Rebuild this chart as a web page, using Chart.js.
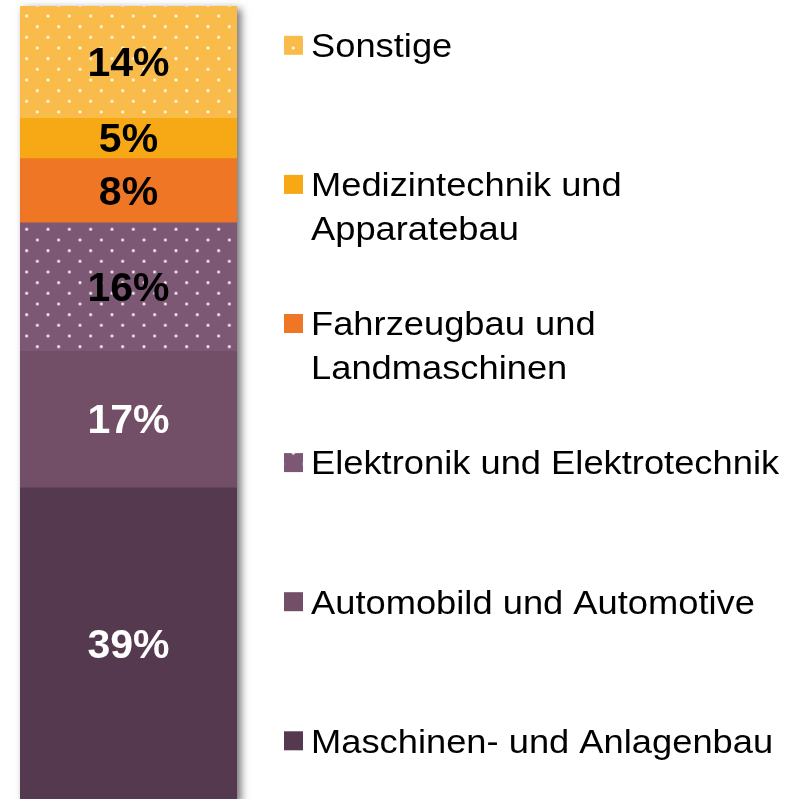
<!DOCTYPE html>
<html>
<head>
<meta charset="utf-8">
<script src="https://cdn.jsdelivr.net/npm/chart.js@4.4.1/dist/chart.umd.min.js"></script>
<style>
html, body { margin: 0; padding: 0; background: #fff; overflow: hidden; }
canvas { display: block; }
</style>
</head>
<body>
<canvas id="branchenChart" width="809" height="801"></canvas>
<script>
// bottom to top of the stacked bar
const categories = [
    'Maschinen- und Anlagenbau',
    'Automobild und Automotive',
    'Elektronik und Elektrotechnik',
    'Fahrzeugbau und\nLandmaschinen',
    'Medizintechnik und\nApparatebau',
    'Sonstige'
];
const shares = [39, 17, 16, 8, 5, 14];
const colors = ['#553a4f', '#724f67', '#7d5875', '#ee7624', '#f7a815', '#f9bc4b'];
const dotted = [false, false, true, false, false, true];
const labelColors = ['#ffffff', '#ffffff', '#000000', '#000000', '#000000', '#000000'];

// white dot raster like the office pattern fill
function dotPattern(color) {
    const tile = document.createElement('canvas');
    tile.width = 64;
    tile.height = 64;
    const c = tile.getContext('2d');
    c.fillStyle = color;
    c.fillRect(0, 0, 64, 64);
    for (let r = 0; r < 6; r++) {
        for (let k = 0; k < 3; k++) {
            const x = (r % 2 ? 5.33 : 16) + k * 21.333;
            const y = 5.33 + r * 10.667;
            c.fillStyle = 'rgba(255,255,255,0.35)';
            c.beginPath(); c.arc(x, y, 2, 0, Math.PI * 2); c.fill();
            c.fillStyle = 'rgba(255,255,255,0.95)';
            c.beginPath(); c.arc(x, y, 1.1, 0, Math.PI * 2); c.fill();
        }
    }
    return c.createPattern(tile, 'repeat');
}

const barShadow = {
    id: 'barShadow',
    beforeDatasetsDraw(chart) {
        const ctx = chart.ctx;
        const area = chart.chartArea;
        const total = shares.reduce((a, b) => a + b, 0);
        const top = chart.scales.y.getPixelForValue(total);
        ctx.save();
        ctx.shadowColor = 'rgba(0,0,0,0.55)';
        ctx.shadowBlur = 8;
        ctx.shadowOffsetX = 4;
        ctx.shadowOffsetY = 3;
        ctx.fillStyle = '#777';
        ctx.fillRect(area.left, top, area.right - area.left, area.bottom - top);
        ctx.restore();
    }
};

const segmentLabels = {
    id: 'segmentLabels',
    afterDatasetsDraw(chart) {
        const ctx = chart.ctx;
        ctx.save();
        ctx.font = 'bold 41px "Liberation Sans", Arial, sans-serif';
        ctx.textAlign = 'center';
        ctx.textBaseline = 'middle';
        chart.data.datasets.forEach((ds, i) => {
            const el = chart.getDatasetMeta(i).data[0];
            ctx.fillStyle = labelColors[i];
            ctx.fillText(shares[i] + '%', el.x, (el.y + el.base) / 2 + 2.5);
        });
        ctx.restore();
    }
};

const sideLegend = {
    id: 'sideLegend',
    afterDraw(chart) {
        const ctx = chart.ctx;
        ctx.save();
        ctx.font = '33px "Liberation Sans", Arial, sans-serif';
        ctx.textAlign = 'left';
        ctx.textBaseline = 'alphabetic';
        const n = categories.length;
        for (let j = 0; j < n; j++) {
            const i = n - 1 - j;
            const cy = 45.3 + j * 139.1;
            ctx.fillStyle = chart.data.datasets[i].backgroundColor;
            ctx.fillRect(284, cy - 9.5, 19, 19);
            ctx.fillStyle = '#000';
            categories[i].split('\n').forEach((line, l) => {
                ctx.save();
                ctx.translate(311, cy + 11.8 + l * 43.3);
                ctx.scale(1.1, 1);
                ctx.fillText(line, 0, 0);
                ctx.restore();
            });
        }
        ctx.restore();
    }
};

const ctx = document.getElementById('branchenChart').getContext('2d');
new Chart(ctx, {
    type: 'bar',
    data: {
        labels: [''],
        datasets: categories.map((c, i) => ({
            label: c.replace('\n', ' '),
            data: [shares[i]],
            backgroundColor: dotted[i] ? dotPattern(colors[i]) : colors[i],
            borderWidth: 0,
            categoryPercentage: 1,
            barPercentage: 1
        }))
    },
    options: {
        responsive: false,
        animation: false,
        layout: { padding: { left: 20, right: 572, top: 6, bottom: 0 } },
        scales: {
            x: { stacked: true, display: false },
            y: { stacked: true, display: false, min: 0, max: 99 }
        },
        plugins: {
            legend: { display: false },
            tooltip: { enabled: false }
        }
    },
    plugins: [barShadow, segmentLabels, sideLegend]
});
</script>
</body>
</html>
